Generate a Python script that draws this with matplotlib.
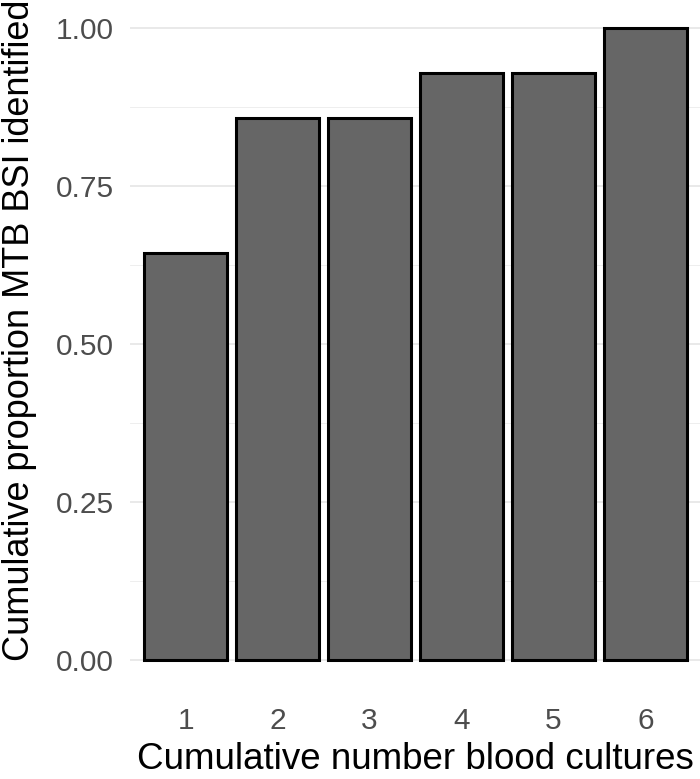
import matplotlib
matplotlib.use("Agg")
import matplotlib.pyplot as plt
import numpy as np

categories = ["1", "2", "3", "4", "5", "6"]
values = [0.643, 0.857, 0.857, 0.929, 0.929, 1.0]
yticks = [0.0, 0.25, 0.50, 0.75, 1.00]
yticklabels = ["0.00", "0.25", "0.50", "0.75", "1.00"]
minor_ticks = [0.125, 0.375, 0.625, 0.875]

plt.rcParams['font.family'] = ['Liberation Sans', 'DejaVu Sans']

W, H = 700, 779
fig = plt.figure(figsize=(7.0, 7.79), dpi=100)
left, right = 130.4, 700.5
top, bottom = -4.0, 691.6
ax = fig.add_axes([left / W, 1 - bottom / H, (right - left) / W, (bottom - top) / H])

x = np.arange(1, len(categories) + 1)
for v in minor_ticks:
    ax.axhline(v, color="#EBEBEB", lw=0.6, zorder=0)
for v in yticks:
    ax.axhline(v, color="#E3E3E3", lw=1.1, zorder=0)

ax.bar(x, values, width=0.9, color="#666666", edgecolor="black", linewidth=2.2, zorder=2)

ax.set_xlim(0.4, 6.6)
ax.set_ylim(-0.05, 1.05)
ax.set_xticks(x)
ax.set_xticklabels(categories)
ax.set_yticks(yticks)
ax.set_yticklabels(yticklabels)
ax.tick_params(axis='both', length=0, labelsize=21.5, labelcolor="#4D4D4D")
ax.tick_params(axis='x', pad=11)
ax.tick_params(axis='y', pad=12)
for s in ax.spines.values():
    s.set_visible(False)
ax.set_xlabel("Cumulative number blood cultures", fontsize=26.5, labelpad=5)
ax.set_ylabel("Cumulative proportion MTB BSI identified", fontsize=26, va='top')
ax.yaxis.set_label_coords(-(130.4 - 2) / (700.5 - 130.4), (691.6 - 330) / 695.6)

fig.savefig("out.png", dpi=100)
